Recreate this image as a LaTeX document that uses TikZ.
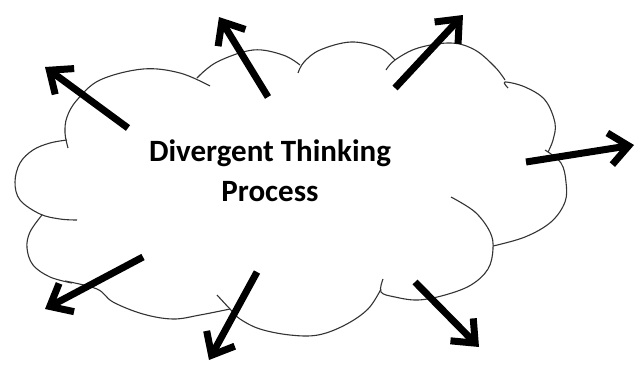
\documentclass[tikz,border=0pt]{standalone}
\usepackage{fontspec}
\setmainfont{Carlito}
\usetikzlibrary{arrows.meta}
\definecolor{cloudline}{gray}{0.2}

\begin{document}
\begin{tikzpicture}[x=1pt,y=-1pt,
  lobe/.style={draw=cloudline,line width=1.1pt,smooth,tension=0.6},
  ray/.style={line width=7pt,-{Straight Barb[length=19pt,width=32pt]}}]
  \useasboundingbox (0,0) rectangle (638,365);
  % cloud outline, one arc per lobe
  \begin{scope}
   \draw[lobe] plot coordinates {(67,140) (50,143) (33,150) (20,163) (15,182) (20,200) (40,214) (60,219) (77,220)};
   \draw[lobe] plot coordinates {(68,148) (65,133) (67,117) (77,100) (100,80) (143,69) (180,73) (210,86)};
   \draw[lobe] plot coordinates {(197,78) (217,62) (253,50) (283,55) (300,65)};
   \draw[lobe] plot coordinates {(298,73) (304,62) (320,50) (351,42) (380,48) (395,60)};
   \draw[lobe] plot coordinates {(386,70) (395,60) (418,48) (451,43) (475,50) (495,67) (505,80)};
   \draw[lobe] plot coordinates {(508,88) (505,82) (525,87) (545,100) (555,123) (553,140) (548,152)};
   \draw[lobe] plot coordinates {(545,150) (561,163) (566,182) (565,202) (551,222) (525,237) (493,246)};
   \draw[lobe] plot coordinates {(451,197) (475,212) (490,232) (493,249) (488,269) (471,285) (445,295) (418,300) (395,297) (381,292) (383,279)};
   \draw[lobe] plot coordinates {(381,289) (368,309) (345,325) (318,335) (290,335) (260,329) (240,319) (230,309) (217,295)};
   \draw[lobe] plot coordinates {(230,309) (200,315) (173,319) (143,314) (113,302) (97,289) (65,281)};
   \draw[lobe] plot coordinates {(42,215) (30,232) (27,248) (33,265) (50,277) (72,283)};
  \end{scope}
  \node[font=\bfseries\fontsize{31}{40}\selectfont,align=center] (title) at (270,171) {Divergent Thinking\\Process};
  % rays pointing out of the cloud
  \coordinate (upleftA) at (128,128);   \coordinate (upleftB) at (45,67);
  \coordinate (topA) at (268,97);       \coordinate (topB) at (219,17);
  \coordinate (toprightA) at (395,88);  \coordinate (toprightB) at (463,15);
  \coordinate (rightA) at (526,162);    \coordinate (rightB) at (634,145);
  \coordinate (lowrightA) at (415,282); \coordinate (lowrightB) at (479,347);
  \coordinate (bottomA) at (257,272);   \coordinate (bottomB) at (209,360);
  \coordinate (lowleftA) at (143,257);  \coordinate (lowleftB) at (45,309);
  \draw[ray] (upleftA) -- (upleftB);
  \draw[ray] (topA) -- (topB);
  \draw[ray] (toprightA) -- (toprightB);
  \draw[ray] (rightA) -- (rightB);
  \draw[ray] (lowrightA) -- (lowrightB);
  \draw[ray] (bottomA) -- (bottomB);
  \draw[ray] (lowleftA) -- (lowleftB);
\end{tikzpicture}
\end{document}
